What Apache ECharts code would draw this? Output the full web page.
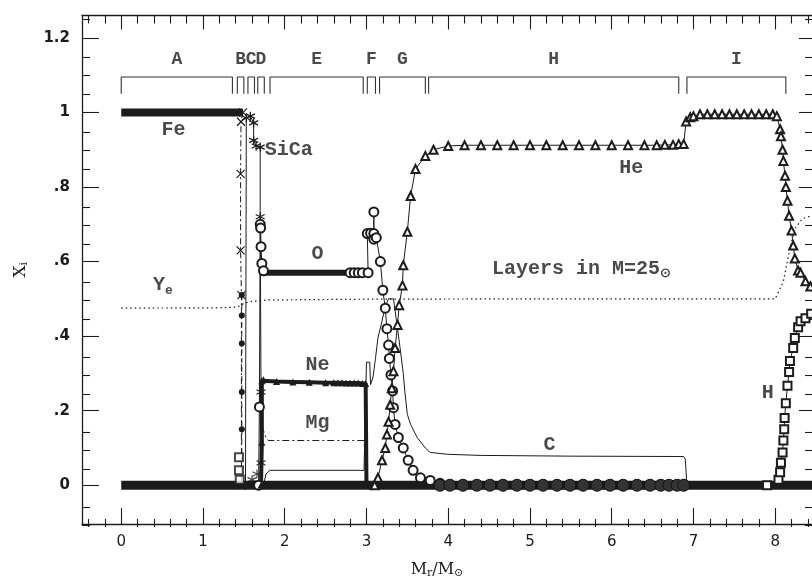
<!DOCTYPE html>
<html><head><meta charset="utf-8">
<script src="https://cdn.jsdelivr.net/npm/echarts@6/dist/echarts.min.js"></script>
<style>html,body{margin:0;padding:0;background:#fff}#c{width:812px;height:584px}</style>
</head><body><div id="c"></div>
<script>
// ---- tick labels ----
const xMajor = [0,1,2,3,4,5,6,7,8];
const yMajor = [0,0.2,0.4,0.6,0.8,1.0,1.2];
const xMinor = []; for (let i=-2;i<=42;i++){ if(i%5!==0) xMinor.push(+(i*0.2).toFixed(2)); }
const yMinor = []; for (let i=-2;i<=25;i++){ if(i%4!==0) yMinor.push(+(i*0.05).toFixed(2)); }

// ---- layer brackets ----
const layerNames = ['A','B','C','D','E','F','G','H','I'];
const layerBounds = [[0,1.36],[1.42,1.50],[1.55,1.63],[1.67,1.75],[1.82,2.96],[3.01,3.11],[3.16,3.72],[3.76,6.82],[6.92,8.13]];

// ---- abundance profiles [Mr/Msun, X_i] ----
const feBand = [[0,1],[1.49,1]];
const feDrop = [[1.49,1],[1.465,0.975],[1.46,0.835],[1.46,0.63],[1.47,0.51],[1.47,0]];
const dotted2 = [[1.475,0.51],[1.475,0.455],[1.475,0.38],[1.475,0.25],[1.475,0.15],[1.475,0]];
const siCa = [[1.52,0],[1.53,0.985],[1.58,0.99],[1.62,0.972],[1.62,0.925],[1.65,0.91],[1.70,0.907],[1.70,0.72],[1.71,0.25],[1.72,0]];
const oBand = [[1.74,0.57],[2.75,0.57]];
const oProf = [[1.68,0],[1.69,0.21],[1.70,0.70],[1.705,0.69],[1.71,0.64],[1.72,0.595],[1.74,0.575],[2.8,0.57],[2.85,0.57],[2.9,0.57],[2.95,0.57],[3.02,0.57],[3.01,0.675],[3.05,0.676],[3.09,0.675],[3.09,0.733],[3.09,0.66],[3.12,0.664],[3.17,0.60],[3.20,0.523],[3.23,0.475],[3.25,0.42],[3.27,0.376],[3.28,0.34],[3.30,0.296],[3.32,0.253],[3.33,0.208],[3.35,0.163],[3.39,0.128],[3.45,0.10],[3.51,0.067],[3.57,0.04],[3.66,0.02],[3.78,0.013],[3.90,0.005]];
const oZero = [[3.9,0],[4.02,0],[4.18,0],[4.35,0],[4.51,0],[4.67,0],[4.84,0],[5.0,0],[5.16,0],[5.33,0],[5.49,0],[5.65,0],[5.82,0],[5.98,0],[6.14,0],[6.31,0],[6.47,0],[6.6,0],[6.7,0],[6.8,0],[6.88,0]];
const neProf = [[1.71,0],[1.72,0.115],[1.72,0.28],[1.74,0.283],[1.9,0.278],[2.1,0.277],[2.3,0.276],[2.5,0.275],[2.6,0.275],[2.65,0.275],[2.7,0.275],[2.75,0.274],[2.8,0.274],[2.85,0.274],[2.9,0.274],[2.95,0.273],[2.99,0.273],[3.0,0]];
const mgProf = [[1.71,0],[1.72,0.16],[1.74,0.147],[1.77,0.128],[1.8,0.12],[2.97,0.12],[2.99,0.12],[3.0,0]];
const cProf = [[1.74,0],[1.77,0.03],[1.82,0.04],[2.97,0.04],[2.99,0.045],[3.0,0.33],[3.04,0.33],[3.05,0.27],[3.08,0.29],[3.11,0.34],[3.14,0.395],[3.19,0.44],[3.23,0.48],[3.27,0.50],[3.33,0.50],[3.38,0.42],[3.41,0.37],[3.45,0.30],[3.47,0.25],[3.50,0.19],[3.54,0.163],[3.62,0.128],[3.72,0.10],[3.78,0.088],[3.99,0.083],[4.39,0.08],[5.5,0.078],[6.88,0.077],[6.9,0.07],[6.92,0]];
const heProf = [[3.1,0],[3.14,0.02],[3.19,0.067],[3.23,0.10],[3.25,0.136],[3.27,0.17],[3.29,0.216],[3.31,0.26],[3.33,0.306],[3.35,0.368],[3.38,0.43],[3.40,0.483],[3.44,0.536],[3.45,0.59],[3.50,0.68],[3.54,0.776],[3.60,0.848],[3.72,0.883],[3.82,0.90],[4.0,0.91],[4.2,0.912],[4.4,0.912],[4.6,0.912],[4.8,0.912],[5.0,0.912],[5.2,0.912],[5.4,0.912],[5.6,0.912],[5.8,0.912],[6.0,0.912],[6.2,0.912],[6.4,0.912],[6.55,0.912],[6.65,0.913],[6.75,0.913],[6.82,0.915],[6.88,0.915],[6.91,0.976],[6.96,0.987],[7.0,0.99],[7.08,0.995],[7.17,0.995],[7.26,0.995],[7.35,0.995],[7.44,0.995],[7.53,0.995],[7.62,0.995],[7.71,0.995],[7.8,0.995],[7.89,0.995],[7.97,0.995],[8.02,0.99],[8.06,0.955],[8.07,0.936],[8.09,0.90],[8.10,0.87],[8.12,0.83],[8.13,0.80],[8.15,0.763],[8.17,0.723],[8.20,0.683],[8.22,0.643],[8.24,0.608],[8.28,0.576],[8.31,0.57],[8.37,0.547],[8.43,0.533]];
const hProf = [[7.9,0],[8.04,0.015],[8.06,0.035],[8.07,0.06],[8.09,0.088],[8.10,0.12],[8.11,0.15],[8.115,0.18],[8.13,0.22],[8.15,0.267],[8.17,0.304],[8.18,0.333],[8.22,0.368],[8.24,0.395],[8.28,0.424],[8.31,0.44],[8.37,0.448],[8.44,0.46]];
const yeProf = [[0,0.475],[1.2,0.476],[1.42,0.478],[1.5,0.488],[1.6,0.493],[1.8,0.497],[3.0,0.499],[5.0,0.5],[8.0,0.5],[8.02,0.5],[8.10,0.547],[8.18,0.635],[8.24,0.688],[8.33,0.715],[8.45,0.723]];
const zeroBand = [[0,0],[8.45,0]];
const clusterSq = [[1.44,0.075],[1.44,0.04],[1.45,0.015]];
const clusterStar = [[1.71,0.06],[1.66,0.03],[1.6,0.015]];

// ---- annotations [x, y, text] ----
const notes = [
  [0.64,0.952,'Fe'],[2.05,0.899,'SiCa'],[6.24,0.851,'He'],[2.40,0.621,'O'],
  [5.63,0.581,'Layers in M=25{s|⊙}'],[0.51,0.536,'Y{s|e}'],[2.40,0.323,'Ne'],
  [2.40,0.168,'Mg'],[5.24,0.109,'C'],[7.91,0.248,'H']
];

const INK = '#1c1c1c';
const FONT = 'Liberation Mono';
const star = 'path://M5,0L5,10M0.7,2.5L9.3,7.5M9.3,2.5L0.7,7.5';
const cross = 'path://M0,0L10,10M10,0L0,10';

const XMIN=-0.48, XMAX=8.45, YMIN=-0.104, YMAX=1.26;
const gridBox = {left:82, right:0, top:15.5, bottom:57};

function xAx(gi, pos, ticks, len, showLabel, showLine){
  return {type:'value', gridIndex:gi, position:pos, min:XMIN, max:XMAX,
    axisLine:{show:showLine, onZero:false, lineStyle:{color:INK,width:1.3}},
    axisTick:{show:true, inside:true, length:len, customValues:ticks, lineStyle:{color:INK,width:1.1}},
    axisLabel:{show:showLabel, customValues:ticks, margin:11, color:INK, fontFamily:'DejaVu Sans', fontSize:15},
    splitLine:{show:false}};
}
function yAx(gi, pos, ticks, len, showLabel, showLine){
  return {type:'value', gridIndex:gi, position:pos, min:YMIN, max:YMAX,
    axisLine:{show:showLine, onZero:false, lineStyle:{color:INK,width:1.3}},
    axisTick:{show:true, inside:true, length:len, customValues:ticks, lineStyle:{color:INK,width:1.1}},
    axisLabel:{show:showLabel, customValues:ticks, margin:12, color:INK, fontFamily:'DejaVu Sans', fontSize:15, fontWeight:'bold',
      formatter:v=>{ const s=String(+v.toFixed(2)); return s.startsWith('0.')?s.slice(1):s; }},
    splitLine:{show:false}};
}

const xAxes = [
  xAx(0,'bottom',xMajor,16,true,true), xAx(0,'top',xMajor,14,false,true),
  xAx(1,'bottom',xMinor,8,false,false), xAx(1,'top',xMinor,8,false,false)
];
xAxes[0].name = 'M{s|r}/M{s|⊙}';
xAxes[0].nameLocation = 'middle';
xAxes[0].nameGap = 36;
xAxes[0].nameTextStyle = {color:INK, fontFamily:'DejaVu Serif', fontSize:16, padding:[0,20,0,0], rich:{s:{fontSize:11, verticalAlign:'bottom', padding:[8,0,0,0], fontFamily:'DejaVu Serif', color:INK}}};
const yAxes = [
  yAx(0,'left',yMajor,17,true,true), yAx(0,'right',yMajor,13,false,false),
  yAx(1,'left',yMinor,8,false,false), yAx(1,'right',yMinor,7,false,false)
];
yAxes[0].name = 'X{s|i}';
yAxes[0].nameLocation = 'middle';
yAxes[0].nameGap = 52;
yAxes[0].nameTextStyle = {color:INK, fontFamily:'DejaVu Serif', fontSize:17, rich:{s:{fontSize:11, padding:[8,0,0,0], fontFamily:'DejaVu Serif', color:INK}}};

function line(data, o){
  o = o || {};
  return Object.assign({type:'line', xAxisIndex:0, yAxisIndex:0, data:data, animation:false,
    symbol:'none', showSymbol:!!o.symbol, lineStyle:{color:INK, width:1, type:'solid'},
    itemStyle:{color:INK}, z:3}, o);
}

const series = [];
layerBounds.forEach(b=>{
  series.push(line([[b[0],1.05],[b[0],1.095],[b[1],1.095],[b[1],1.05]], {lineStyle:{color:'#333',width:1.1}}));
});
series.push({type:'scatter', xAxisIndex:0, yAxisIndex:0, symbolSize:0, animation:false, silent:true,
  data: layerBounds.map((b,i)=>({value:[(b[0]+b[1])/2, 1.141], name:layerNames[i]})),
  label:{show:true, position:'inside', formatter:p=>p.name, color:INK, fontFamily:FONT, fontWeight:'bold', fontSize:18}});

series.push(line(zeroBand, {lineStyle:{color:INK,width:9}, z:2}));
series.push(line(feBand, {lineStyle:{color:INK,width:8}}));
series.push(line(feDrop, {lineStyle:{color:INK,width:1,type:[6,3,2,3]}, symbol:cross, symbolSize:8,
  itemStyle:{color:'none', borderColor:INK, borderWidth:1.2}}));
series.push(line(dotted2, {lineStyle:{color:INK,width:1,type:[5,4]}, symbol:'circle', symbolSize:6}));
series.push(line(siCa, {lineStyle:{color:INK,width:1}, symbol:star, symbolSize:9,
  itemStyle:{color:'none', borderColor:INK, borderWidth:1.2}}));
series.push(line(oBand, {lineStyle:{color:INK,width:6}}));
series.push(line(oProf, {lineStyle:{color:INK,width:1}, symbol:'emptyCircle', symbolSize:9,
  itemStyle:{color:INK, borderWidth:1.2}}));
series.push(line(oZero, {lineStyle:{color:INK,width:1}, symbol:'circle', symbolSize:12,
  itemStyle:{color:'#333', borderColor:'#111', borderWidth:1}}));
series.push(line(neProf, {lineStyle:{color:INK,width:4}, symbol:'triangle', symbolSize:7}));
series.push(line(mgProf, {lineStyle:{color:INK,width:1,type:[7,3,2,3]}}));
series.push(line(cProf, {lineStyle:{color:INK,width:1}}));
series.push(line(heProf, {lineStyle:{color:INK,width:1}, symbol:'emptyTriangle', symbolSize:8,
  itemStyle:{color:INK, borderWidth:1.1}}));
series.push(line(hProf, {lineStyle:{color:INK,width:1}, symbol:'emptyRect', symbolSize:8,
  itemStyle:{color:INK, borderWidth:1.1}}));
series.push(line(yeProf, {lineStyle:{color:INK,width:1.2,type:[1.5,3]}}));
series.push({type:'scatter', xAxisIndex:0, yAxisIndex:0, data:clusterSq, symbol:'emptyRect', symbolSize:8,
  itemStyle:{color:INK, borderWidth:1.1}, animation:false, z:4});
series.push({type:'scatter', xAxisIndex:0, yAxisIndex:0, data:clusterStar, symbol:star, symbolSize:9,
  itemStyle:{color:'none', borderColor:INK, borderWidth:1.2}, animation:false, z:4});

series.push({type:'scatter', xAxisIndex:0, yAxisIndex:0, symbolSize:0, animation:false, silent:true, z:6,
  data: notes.map(n=>({value:[n[0],n[1]], name:n[2]})),
  label:{show:true, position:'inside', formatter:p=>p.name, color:INK, fontFamily:FONT, fontWeight:'bold', fontSize:20,
    rich:{s:{fontSize:13, fontWeight:'bold', padding:[11,0,0,0], fontFamily:FONT, color:INK}}}});

const chart = echarts.init(document.getElementById('c'), null, {renderer:'canvas'});
chart.setOption({
  animation:false,
  backgroundColor:'#fff',
  grid:[Object.assign({}, gridBox), Object.assign({}, gridBox)],
  xAxis:xAxes, yAxis:yAxes, series:series
});
</script></body></html>
